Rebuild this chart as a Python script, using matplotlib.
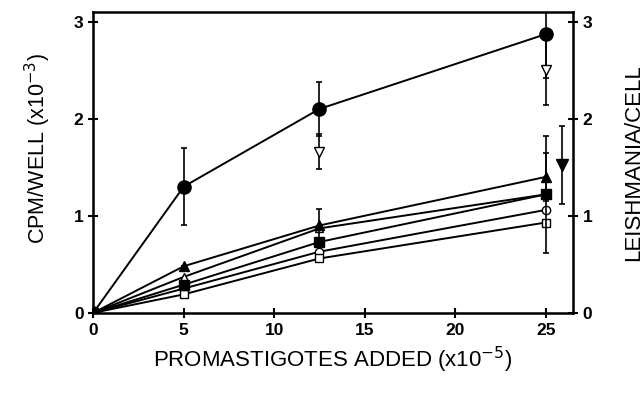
import matplotlib
matplotlib.use("Agg")
import matplotlib.pyplot as plt

plt.rcParams['font.family'] = ['Liberation Sans', 'DejaVu Sans']

x = [0, 5, 12.5, 25]
x_top2 = [12.5, 25]

# top group
circle_filled = [0, 1.30, 2.10, 2.87]
circle_filled_err = [0, 0.40, 0.28, 0.45]
tri_down_open = [1.66, 2.50]
tri_down_open_err = [0.18, 0.36]

# lower group
tri_up_filled = [0, 0.48, 0.90, 1.40]
tri_up_filled_err = [0, 0, 0.17, 0.25]
tri_up_open = [0, 0.37, 0.87, 1.22]
square_filled = [0, 0.29, 0.73, 1.22]
square_filled_err = [0, 0, 0, 0.60]
circle_open = [0, 0.25, 0.63, 1.06]
square_open = [0, 0.19, 0.56, 0.93]

# right-axis point
x_right = [25.9]
tri_down_filled = [1.52]
tri_down_filled_err = [0.40]

x_ticks = [0, 5, 10, 15, 20, 25]
y_ticks = [0, 1, 2, 3]

fig = plt.figure(figsize=(6.43, 3.94), dpi=100)
ax = fig.add_axes([0.145, 0.206, 0.746, 0.764])

lw = 1.4
ebk = dict(ecolor='black', elinewidth=1.2, capsize=2.5, capthick=1.2)

ax.errorbar(x, circle_filled, yerr=circle_filled_err, fmt='-o', color='black',
            mfc='black', ms=9.5, lw=lw, zorder=5, **ebk)
ax.errorbar(x_top2, tri_down_open, yerr=tri_down_open_err, fmt='v', color='black',
            mfc='white', ms=7, zorder=6, **ebk)

ax.plot(x, tri_up_open, '-^', color='black', mfc='white', ms=6, lw=lw, zorder=4)
ax.plot(x, circle_open, '-o', color='black', mfc='white', ms=6, lw=lw, zorder=4)
ax.plot(x, square_open, '-s', color='black', mfc='white', ms=6, lw=lw, zorder=4)
ax.errorbar(x, tri_up_filled, yerr=tri_up_filled_err, fmt='-^', color='black',
            mfc='black', ms=7, lw=lw, zorder=5, **ebk)
ax.errorbar(x, square_filled, yerr=square_filled_err, fmt='-s', color='black',
            mfc='black', ms=7, lw=lw, zorder=7, **ebk)

ax.errorbar(x_right, tri_down_filled, yerr=tri_down_filled_err, fmt='v', color='black',
            mfc='black', ms=8, zorder=5, **ebk)

ax.set_xlim(0, 26.5)
ax.set_ylim(0, 3.1)
ax.set_xticks(x_ticks)
ax.set_yticks(y_ticks)

for s in ax.spines.values():
    s.set_linewidth(1.8)

ax.tick_params(direction='inout', length=7, width=1.5, labelsize=12.5)
for lab in ax.get_xticklabels() + ax.get_yticklabels():
    lab.set_fontweight('bold')

ax2 = ax.twinx()
ax2.set_ylim(0, 3.1)
ax2.set_yticks(y_ticks)
ax2.tick_params(direction='inout', length=7, width=1.5, labelsize=12.5)
for lab in ax2.get_yticklabels():
    lab.set_fontweight('bold')

ax.set_xlabel('PROMASTIGOTES ADDED (x10$^{-5}$)', fontsize=16, labelpad=5)
ax.set_ylabel('CPM/WELL (x10$^{-3}$)', fontsize=15.5)
ax.yaxis.set_label_coords(-0.084, 0.545)
ax2.set_ylabel('LEISHMANIA/CELL', fontsize=16)
ax2.yaxis.set_label_coords(1.105, 0.5)

fig.savefig('out.png', dpi=100)
